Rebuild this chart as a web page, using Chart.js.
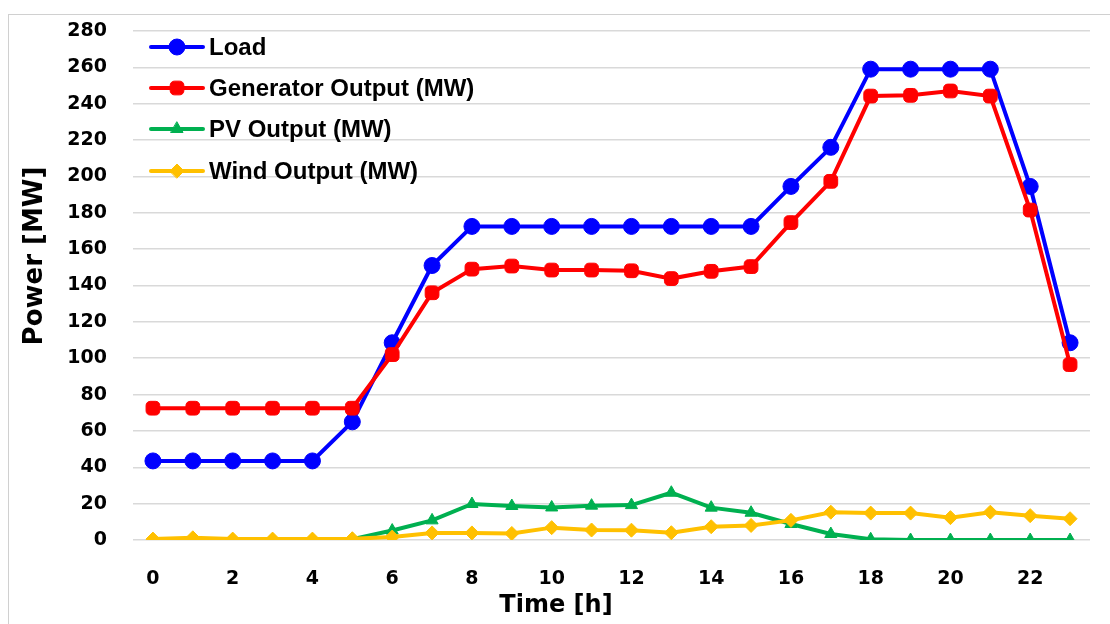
<!DOCTYPE html>
<html>
<head>
<meta charset="utf-8">
<script src="https://cdn.jsdelivr.net/npm/chart.js@4.4.0/dist/chart.umd.min.js"></script>
<style>
  html, body { margin: 0; padding: 0; background: #fff; }
  #wrap { position: relative; width: 1110px; height: 624px; overflow: hidden; }
  #frame { position: absolute; left: 8px; top: 14px; width: 1110px; height: 640px;
           border: 1px solid #d0d0d0; box-sizing: border-box; }
  #c { position: absolute; left: 0; top: 0; }
</style>
</head>
<body>
<div id="wrap">
  <div id="frame"></div>
  <canvas id="c" width="1110" height="624"></canvas>
</div>
<script>
const hours = ['0','1','2','3','4','5','6','7','8','9','10','11','12','13','14','15','16','17','18','19','20','21','22','23'];
const load  = [43.5, 43.5, 43.5, 43.5, 43.5, 65, 108.5, 151, 172.5, 172.5, 172.5, 172.5, 172.5, 172.5, 172.5, 172.5, 194.5, 216, 259, 259, 259, 259, 194.5, 108.5];
const gen   = [72.5, 72.5, 72.5, 72.5, 72.5, 72.5, 102, 136, 149, 150.7, 148.5, 148.5, 148.1, 143.8, 147.8, 150.4, 174.6, 197.3, 244.2, 244.6, 247, 244.2, 181.5, 96.5];
const pv    = [0, 0, 0, 0, 0, 0.5, 5.2, 10.8, 19.8, 18.7, 17.9, 18.9, 19.2, 26, 17.8, 15, 8.8, 3.3, 0.4, 0, 0, 0, 0, 0];
const wind  = [0.5, 1.2, 0.5, 0.5, 0.5, 0.7, 1.6, 3.9, 3.9, 3.6, 6.8, 5.5, 5.4, 4, 7.3, 8, 10.8, 15.3, 14.8, 14.8, 12.3, 15.3, 13.4, 11.7];
const yTicks = [0, 20, 40, 60, 80, 100, 120, 140, 160, 180, 200, 220, 240, 260, 280];
const xTitle = 'Time [h]';
const yTitle = 'Power [MW]';

const tickFont = { family: 'DejaVu Sans', weight: 'bold', size: 19 };

// legend inside the plot (top-left) and the two axis titles, placed like the source
const extras = {
  id: 'extras',
  afterDraw(chart) {
    const ctx = chart.ctx;
    const rows = [47, 88, 129, 171];
    ctx.save();
    chart.data.datasets.forEach((ds, i) => {
      const y = rows[i];
      ctx.strokeStyle = ds.borderColor;
      ctx.lineWidth = 4;
      ctx.lineCap = 'round';
      ctx.beginPath();
      ctx.moveTo(151, y);
      ctx.lineTo(203, y);
      ctx.stroke();
      ctx.fillStyle = ds.borderColor;
      ctx.lineWidth = 1;
      Chart.helpers.drawPoint(ctx, { pointStyle: ds.pointStyle, radius: ds.pointRadius, borderWidth: 1 }, 177, y);
      ctx.fillStyle = '#000';
      ctx.font = 'bold 24px "Liberation Sans"';
      ctx.textBaseline = 'middle';
      ctx.textAlign = 'left';
      ctx.fillText(ds.label, 209, y + 1);
    });

    ctx.fillStyle = '#000';
    ctx.textAlign = 'center';
    ctx.textBaseline = 'middle';
    ctx.font = 'bold 24px "DejaVu Sans"';
    ctx.fillText(xTitle, 556, 606);

    ctx.translate(35, 256);
    ctx.rotate(-Math.PI / 2);
    ctx.font = 'bold 26px "DejaVu Sans"';
    ctx.fillText(yTitle, 0, 0);
    ctx.restore();
  }
};

const mk = (label, data, color, style, r, order) => ({
  label, data, order,
  borderColor: color, backgroundColor: color,
  pointBackgroundColor: color, pointBorderColor: color,
  borderWidth: 4, pointStyle: style, pointRadius: r, pointBorderWidth: 1,
  tension: 0, fill: false
});

new Chart(document.getElementById('c'), {
  type: 'line',
  data: {
    labels: hours,
    datasets: [
      mk('Load', load, '#0000ff', 'circle', 8, 4),
      mk('Generator Output (MW)', gen, '#ff0000', 'rectRounded', 8, 3),
      mk('PV Output (MW)', pv, '#00b050', 'triangle', 7, 2),
      mk('Wind Output (MW)', wind, '#ffc000', 'rectRot', 7, 1)
    ]
  },
  plugins: [extras],
  options: {
    responsive: false,
    animation: false,
    devicePixelRatio: 1,
    layout: { padding: { top: 31, right: 20, left: 0, bottom: 0 } },
    plugins: { legend: { display: false }, tooltip: { enabled: false } },
    scales: {
      x: {
        offset: true,
        grid: { display: false, drawTicks: false },
        border: { display: false },
        ticks: {
          autoSkip: false, maxRotation: 0, color: '#000', font: tickFont, padding: 28,
          callback: (v, i) => (i % 2 === 0 ? hours[i] : '')
        },
        afterFit: s => { s.height = 84; }
      },
      y: {
        min: 0, max: 280,
        afterBuildTicks: s => { s.ticks = yTicks.map(v => ({ value: v })); },
        grid: { color: '#d9d9d9', lineWidth: 1.5, drawTicks: false },
        border: { display: false },
        ticks: { color: '#000', font: tickFont, padding: 26 },
        afterFit: s => { s.width = 133; s.paddingTop = 12; s.paddingBottom = 12; }
      }
    }
  }
});
</script>
</body>
</html>
